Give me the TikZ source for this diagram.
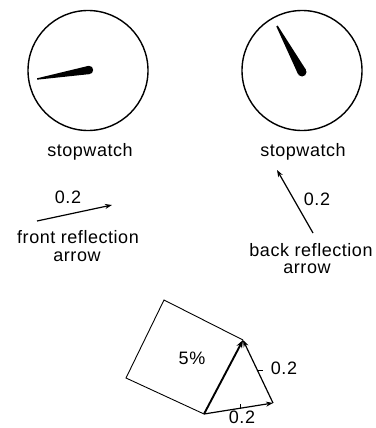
\documentclass[tikz,border=0pt]{standalone}
\usepackage{fontspec}
\setmainfont{Liberation Sans}[LetterSpace=3]
\usetikzlibrary{arrows.meta}
\begin{document}
\begin{tikzpicture}[x=1pt,y=-1pt,
  lbl/.style={font=\fontsize{18}{20}\selectfont, inner sep=0pt},
  dial/.style={draw, line width=1.4pt, circle, minimum size=120pt, inner sep=0pt},
  vec/.style={line width=1.2pt, -{Stealth[length=7pt,width=5pt]}},
  thickvec/.style={line width=1.9pt, -{Stealth[length=8pt,width=6pt]}},
  frame/.style={line width=0.9pt},
  hand/.style={fill=black},
]
\useasboundingbox (0,0) rectangle (375,428);
% stopwatches
\node[dial] (w1) at (88,70.5) {};
\node[dial] (w2) at (302,70.5) {};
\fill[hand] (37,79.7) -- (37,78.3) -- (88.3,65.9) -- (89.7,74.1) -- cycle;
\fill[hand] (89,70) circle (4.2);
\fill[hand] (277.7,25.6) -- (276.3,26.4) -- (298.04,74.15) -- (305.96,69.85) -- cycle;
\fill[hand] (302,72) circle (4.5);
\node[lbl, anchor=base] (s1) at (90,156) {stopwatch};
\node[lbl, anchor=base] (s2) at (303,156.5) {stopwatch};
% front reflection arrow
\coordinate (fa) at (37,221);
\coordinate (fb) at (112,205);
\draw[vec] (fa) -- (fb);
\node[lbl] (f02) at (68,197.5) {0.2};
\node[lbl, anchor=base] (ft1) at (78,243) {front reflection};
\node[lbl, anchor=base] (ft2) at (77,261) {arrow};
% back reflection arrow
\coordinate (ba) at (313,233);
\coordinate (bb) at (277,170);
\draw[vec] (ba) -- (bb);
\node[lbl] (b02) at (317,199) {0.2};
\node[lbl, anchor=base] (bt1) at (311,256) {back reflection};
\node[lbl, anchor=base] (bt2) at (307,273) {arrow};
% vector triangle with square
\coordinate (A) at (204,414);
\coordinate (B) at (273,403);
\coordinate (C) at (243,340);
\coordinate (D) at (164,300);
\coordinate (E) at (126,378);
\draw[frame] (C) -- (D) -- (E) -- (A);
\draw[thickvec] (A) -- (C);
\draw[vec] (A) -- (B);
\draw[vec] (B) -- (C);
\draw[line width=1pt] (240,408) -- (240,404);
\draw[line width=1pt] (257,370) -- (263,370);
\node[lbl] (pct) at (192,358) {5\%};
\node[lbl] (r02) at (284,368) {0.2};
\node[lbl] (d02) at (242,417.5) {0.2};
\end{tikzpicture}
\end{document}
